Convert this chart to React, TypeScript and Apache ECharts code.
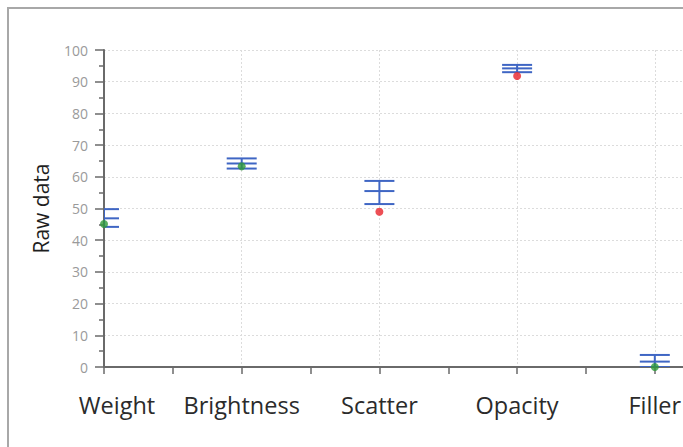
import React, { useEffect, useRef } from "react";
import * as echarts from "echarts";

const categories = ["Weight", "Brightness", "Scatter", "Opacity", "Filler"];
const errTop = [49.8, 65.8, 58.7, 95.3, 3.8];
const errMid = [46.9, 64.2, 55.5, 94.2, 1.7];
const errBottom = [44.2, 62.6, 51.4, 93.0, 0];
const rawValues = [45.1, 63.3, 49.0, 91.8, 0];
const pointColors = ["#2e9a3a", "#2e9a3a", "#e8232b", "#e8232b", "#2e9a3a"];
const yTicks = [0, 10, 20, 30, 40, 50, 60, 70, 80, 90, 100];

export default function App() {
  const ref = useRef<HTMLDivElement>(null);
  useEffect(() => {
    if (!ref.current) return;
    const chart = echarts.init(ref.current, undefined, { renderer: "svg" });
    const font = "'Open Sans', 'Noto Sans', sans-serif";
    const errData = categories.map((_, i) => [i, errTop[i], errMid[i], errBottom[i]]);
    const pointData = categories.map((_, i) => ({
      value: [i, rawValues[i]],
      itemStyle: { color: pointColors[i] },
    }));
    chart.setOption({
      animation: false,
      graphic: [
        {
          type: "rect",
          shape: { x: 8, y: 8, width: 720, height: 480 },
          style: { fill: "none", stroke: "#a8a8a8", lineWidth: 2 },
          silent: true,
        },
      ],
      grid: { left: 104, top: 50, bottom: 80, width: 599, outerBoundsMode: "none", containLabel: false },
      xAxis: {
        type: "value",
        min: 0,
        max: 4.35,
        interval: 1,
        axisLine: { show: true, onZero: false, lineStyle: { color: "#6a6a6a", width: 2 } },
        axisTick: { show: true, length: 7, lineStyle: { color: "#6a6a6a", width: 1.5 } },
        minorTick: { show: true, splitNumber: 2, length: 7, lineStyle: { color: "#6a6a6a", width: 1.5 } },
        splitLine: { show: true, lineStyle: { color: "#dcdcdc", type: [2, 2], width: 1 } },
        axisLabel: {
          margin: 26,
          fontFamily: font,
          fontSize: 23.5,
          color: "#2b2b2b",
          formatter: (v: number) => {
            if (Math.abs(v - Math.round(v)) > 1e-6) return "";
            const name = categories[Math.round(v)] ?? "";
            return Math.round(v) === 0 ? `{w|${name}}` : name;
          },
          rich: { w: { padding: [0, 0, 0, 26], fontSize: 23.5, fontFamily: font, color: "#2b2b2b" } },
        },
      },
      yAxis: {
        type: "value",
        min: 0,
        max: 100,
        interval: 10,
        name: "Raw data",
        nameLocation: "middle",
        nameGap: 53,
        nameTextStyle: { fontFamily: font, fontSize: 21, color: "#1e1e1e" },
        axisLine: { show: true, lineStyle: { color: "#6a6a6a", width: 2 } },
        axisTick: { show: true, length: 9, lineStyle: { color: "#6a6a6a", width: 1.5 } },
        minorTick: { show: true, splitNumber: 2, length: 5, lineStyle: { color: "#6a6a6a", width: 1.5 } },
        splitLine: { show: true, lineStyle: { color: "#dcdcdc", type: [2, 2], width: 1 } },
        axisLabel: {
          margin: 16,
          fontFamily: font,
          fontSize: 14,
          color: "#9a9a9a",
          formatter: (v: number) => (yTicks.includes(v) ? String(v) : ""),
        },
      },
      series: [
        {
          type: "custom",
          clip: true,
          data: errData,
          renderItem: (params: any, api: any) => {
            const x = api.value(0);
            const top = api.coord([x, api.value(1)]);
            const mid = api.coord([x, api.value(2)]);
            const bot = api.coord([x, api.value(3)]);
            const hw = 15;
            const style = { stroke: "#3f66c4", lineWidth: 2 };
            return {
              type: "group",
              children: [
                { type: "line", shape: { x1: top[0], y1: top[1], x2: bot[0], y2: bot[1] }, style },
                { type: "line", shape: { x1: top[0] - hw, y1: top[1], x2: top[0] + hw, y2: top[1] }, style },
                { type: "line", shape: { x1: mid[0] - hw, y1: mid[1], x2: mid[0] + hw, y2: mid[1] }, style },
                { type: "line", shape: { x1: bot[0] - hw, y1: bot[1], x2: bot[0] + hw, y2: bot[1] }, style },
              ],
            };
          },
          z: 3,
        },
        {
          type: "scatter",
          data: pointData,
          symbol: "circle",
          symbolSize: 8,
          clip: false,
          z: 4,
        },
      ],
    });
    return () => chart.dispose();
  }, []);
  return (
    <div
      ref={ref}
      style={{ position: "absolute", left: 0, top: 0, width: 683, height: 447, background: "#fff" }}
    />
  );
}
